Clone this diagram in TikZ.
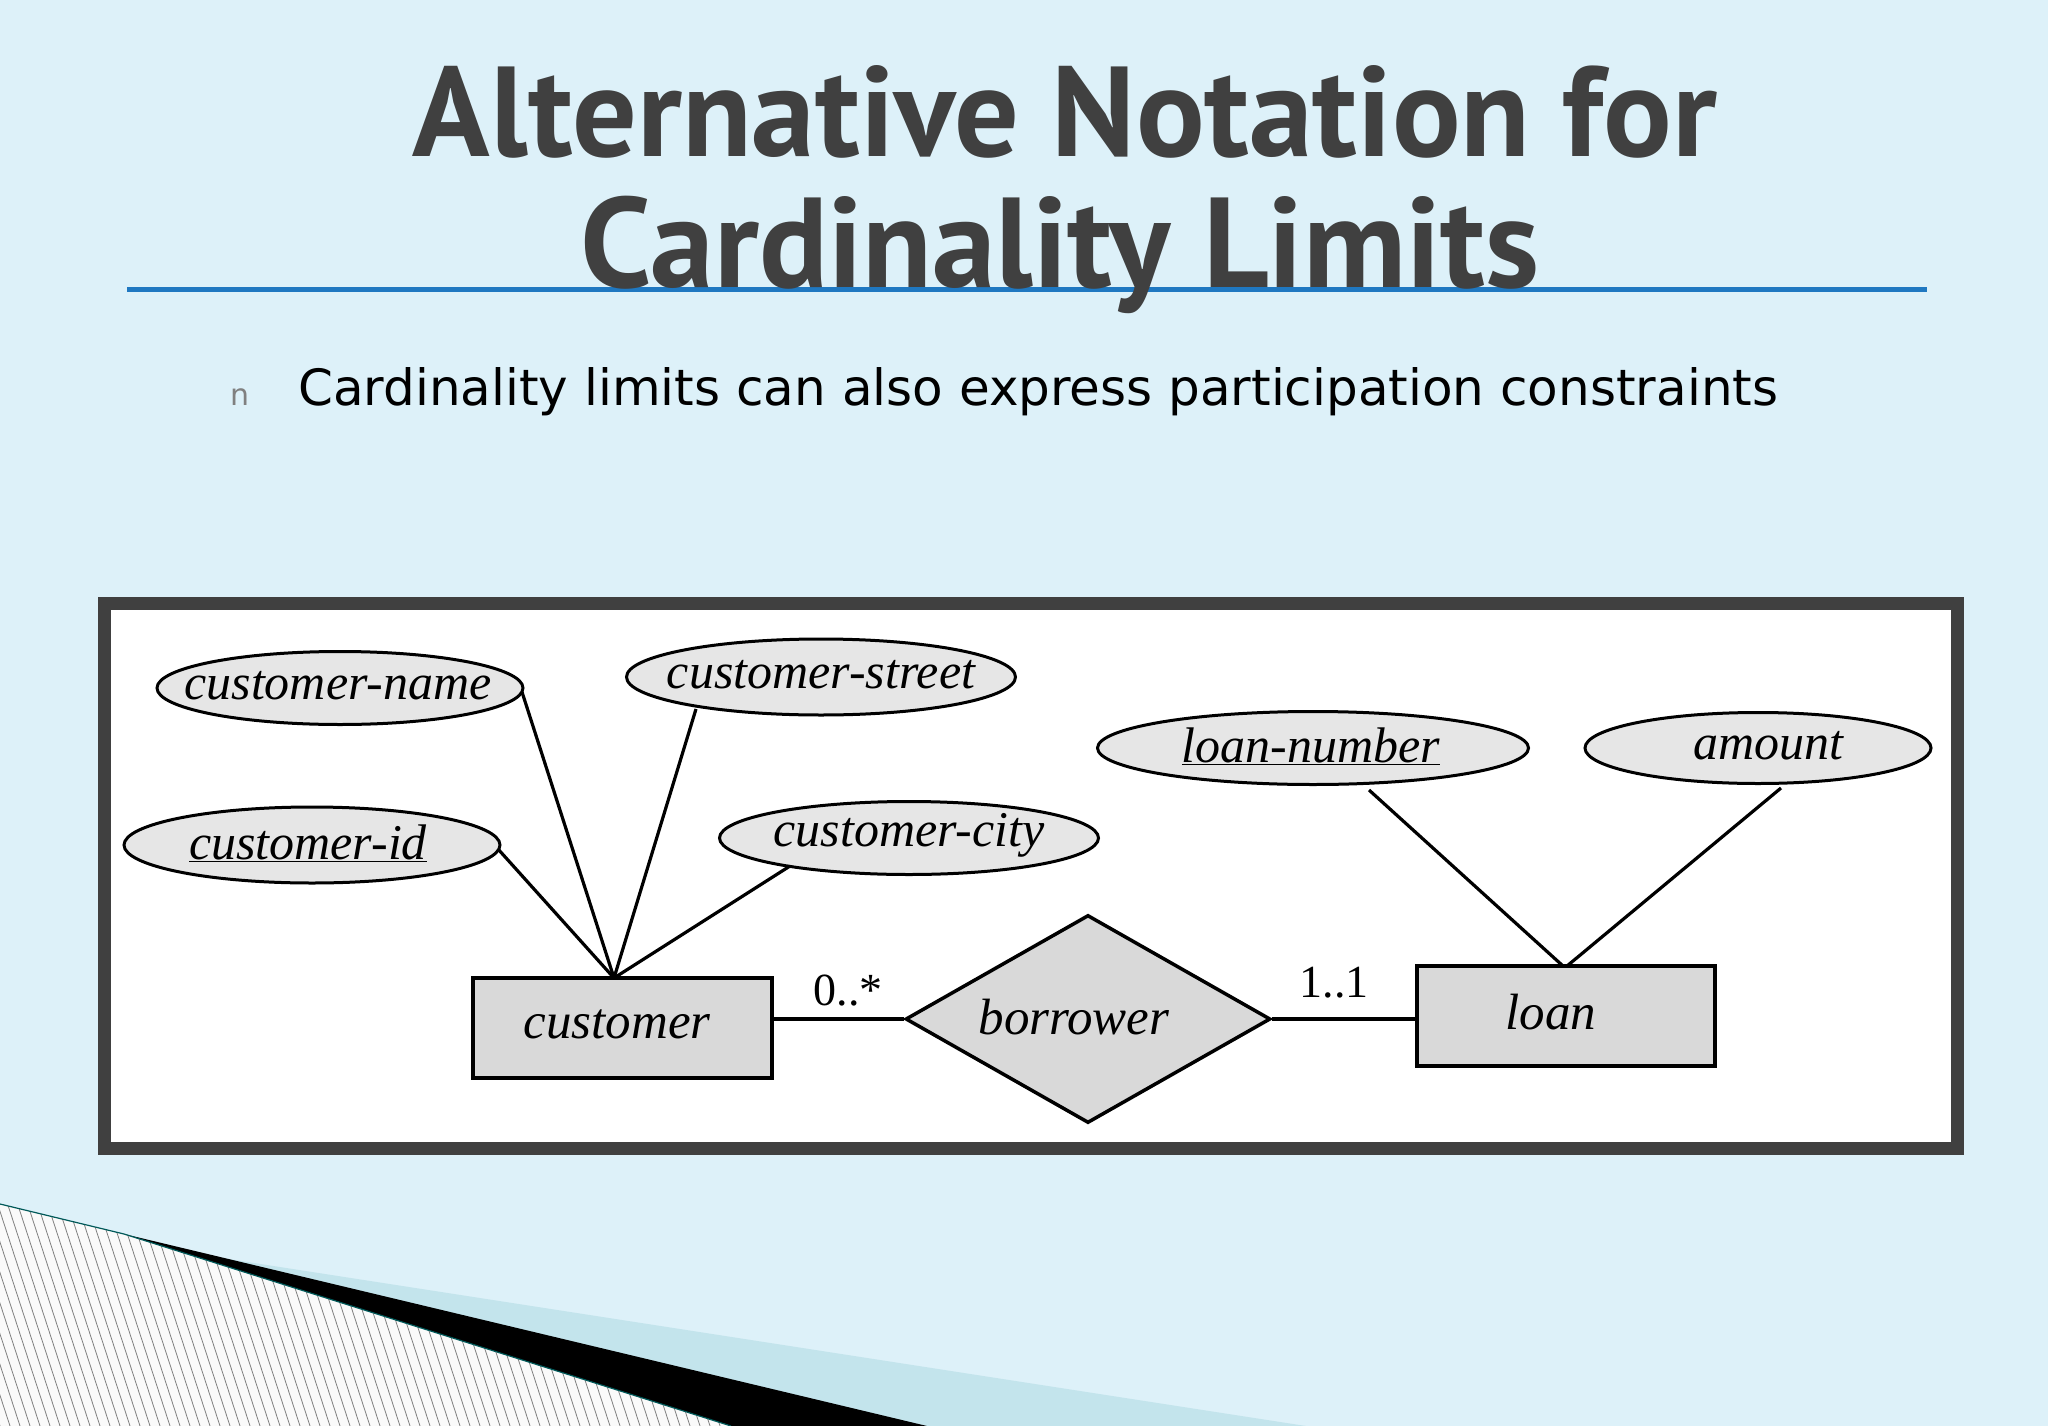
\documentclass[tikz,border=0pt]{standalone}
\usepackage{fontspec}
\setmainfont{Liberation Serif}
\newfontfamily\titlefont{PT Sans}
\newfontfamily\bodyfont{DejaVu Sans}
\usetikzlibrary{shapes.geometric}
\definecolor{bg}{HTML}{DDF1F9}
\definecolor{teal2}{HTML}{C3E4EC}
\definecolor{titlec}{HTML}{404040}
\definecolor{rule}{HTML}{1F78C1}
\definecolor{ent}{HTML}{D9D9D9}
\definecolor{attr}{HTML}{E6E6E6}
\tikzset{
  attrib/.style={ellipse, draw=black, line width=3pt, fill=attr, inner sep=0pt},
  atext/.style={font=\itshape\fontsize{50}{54}\selectfont, inner sep=0pt},
  entity/.style={rectangle, draw=black, line width=3.5pt, fill=ent},
  rel/.style={diamond, draw=black, line width=3.5pt, fill=ent, inner sep=0pt},
  lbl/.style={font=\itshape\fontsize{51}{55}\selectfont},
  link/.style={line width=3.2pt},
  card/.style={font=\fontsize{46}{50}\selectfont}
}
\begin{document}
\begin{tikzpicture}[x=1pt,y=-1pt]
\useasboundingbox (0,0) rectangle (2048,1426);
\fill[bg] (0,0) rectangle (2048,1426);
% decoration bottom-left
\fill[teal2] (196,1254) -- (1306,1426) -- (700,1426) -- cycle;
\fill[black] (124,1234) -- (927,1426) -- (731,1426) -- cycle;
\fill[white!96!gray] (0,1204) -- (124,1234) -- (731,1426) -- (0,1426) -- cycle;
\begin{scope}
\clip (0,1204) -- (124,1234) -- (731,1426) -- (0,1426) -- cycle;
\foreach \i in {-300,-290,...,760} {\draw[gray,line width=0.8pt] (\i,1150) -- (\i+90,1426);}
\end{scope}
\draw[teal!70!black,line width=1.2pt] (0,1204) -- (124,1234) -- (731,1426);
% title
\node[text=titlec, font=\titlefont\bfseries\fontsize{128}{128}\selectfont, anchor=base] (t1) at (1065,157) {Alternative Notation for};
\draw[rule, line width=5pt] (127,289) -- (1927,289);
\node[text=titlec, font=\titlefont\bfseries\fontsize{128}{128}\selectfont, anchor=base] (t2) at (1060,287) {Cardinality Limits};
\node[text=gray, font=\bodyfont\fontsize{30}{30}\selectfont, anchor=base] (bul) at (240,405) {n};
\node[text=black, font=\bodyfont\fontsize{50}{50}\selectfont, anchor=base west, inner sep=0pt] (body) at (298,405) {Cardinality limits can also express participation constraints};
% frame
\draw[fill=white, draw=titlec, line width=13pt] (104.5,603.5) rectangle (1957.5,1148.5);
% entities
\node[entity, minimum width=299pt, minimum height=100pt] (cust) at (622.5,1028) {};
\node[lbl] (custl) at (617,1024) {customer};
\node[entity, minimum width=298pt, minimum height=100pt] (loan) at (1566,1016) {};
\node[lbl] (loanl) at (1551,1012) {loan};
\node[rel, minimum width=365pt, minimum height=208pt] (borr) at (1088,1019) {};
\node[lbl] (borrl) at (1074,1017) {borrower};
% attributes
\node[attrib, minimum width=366pt, minimum height=73pt] (cname) at (340,688) {};
\node[atext] (cnamel) at (338,686) {customer-name};
\node[attrib, minimum width=389pt, minimum height=76pt] (cstreet) at (821,677) {};
\node[atext] (cstreetl) at (821,675) {customer-street};
\node[attrib, minimum width=376pt, minimum height=76pt] (cid) at (312,845) {};
\node[atext] (cidl) at (308,843) {\underline{customer-id}};
\node[attrib, minimum width=379pt, minimum height=73pt] (ccity) at (909,838) {};
\node[atext] (ccityl) at (909,835) {customer-city};
\node[attrib, minimum width=431pt, minimum height=73pt] (lnum) at (1313,748) {};
\node[atext] (lnuml) at (1311,746) {\underline{loan-number}};
\node[attrib, minimum width=346pt, minimum height=71pt] (amt) at (1758,748) {};
\node[atext] (amtl) at (1768,746) {amount};
\coordinate (ctop) at (614,978);
\coordinate (ln1) at (1563,966);
\coordinate (ln2) at (1567,966);
\draw[link] (522,692) -- (ctop);
\draw[link] (696,709) -- (ctop);
\draw[link] (498,849) -- (ctop);
\draw[link] (790,866) -- (ctop);
\draw[link] (1369,790) -- (ln1);
\draw[link] (1781,788) -- (ln2);
\draw[link] (cust.east|-borr.west) -- (borr.west);
\draw[link] (borr.east) -- (loan.west|-borr.east);
\node[card, anchor=base] (c1) at (848,1005) {0..*};
\node[card, anchor=base] (c2) at (1334,997) {1..1};
\end{tikzpicture}
\end{document}
